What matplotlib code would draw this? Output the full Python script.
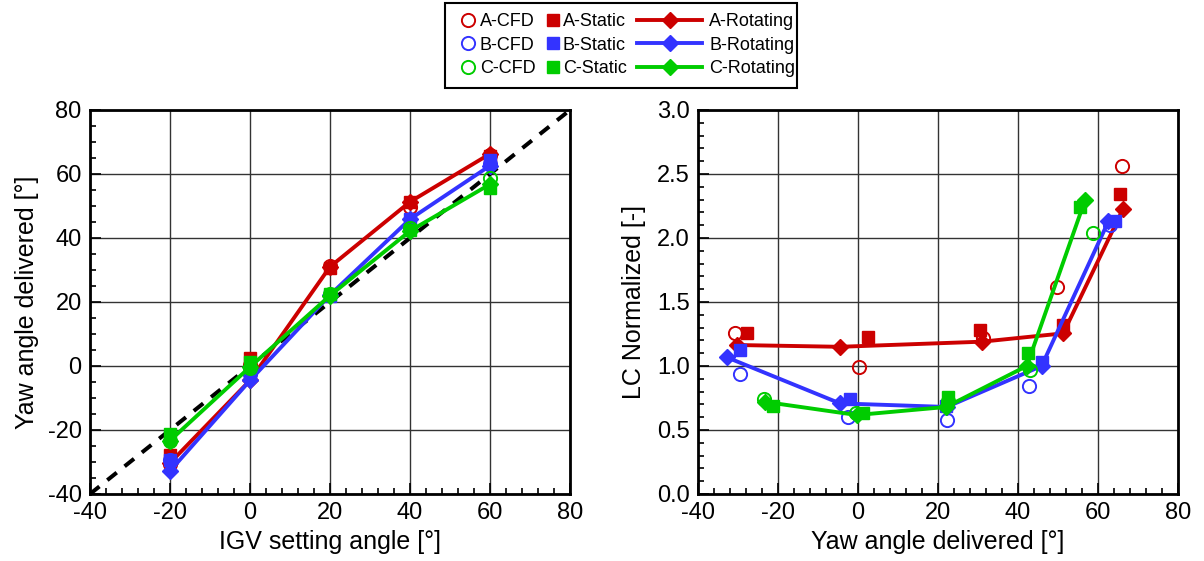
import matplotlib.pyplot as plt
from matplotlib.lines import Line2D
from matplotlib.patches import Rectangle
from matplotlib.ticker import MultipleLocator

plt.rcParams["font.family"] = ["Liberation Sans", "DejaVu Sans"]
plt.rcParams["axes.unicode_minus"] = False

# IGV setting angles (left plot x)
igv = [-20, 0, 20, 40, 60]

# Yaw angle delivered per case [deg]
yaw_a_cfd = [-30.7, 0.3, 31.2, 49.7, 65.9]
yaw_a_static = [-27.8, 2.4, 30.5, 51.3, 65.5]
yaw_a_rot = [-30.3, -4.5, 31.0, 51.3, 66.3]
yaw_b_cfd = [-29.5, -2.4, 22.2, 42.8, 63.0]
yaw_b_static = [-29.5, -2.0, 22.0, 45.9, 64.3]
yaw_b_rot = [-32.8, -4.5, 22.2, 45.9, 62.6]
yaw_c_cfd = [-23.5, -0.5, 22.5, 43.0, 58.8]
yaw_c_static = [-21.2, 1.3, 22.6, 42.6, 55.5]
yaw_c_rot = [-23.3, -0.3, 22.0, 42.2, 56.8]

# LC normalized per case [-]
lc_a_cfd = [1.255, 0.995, 1.22, 1.62, 2.565]
lc_a_static = [1.255, 1.23, 1.28, 1.32, 2.34]
lc_a_rot = [1.164, 1.15, 1.19, 1.255, 2.23]
lc_b_cfd = [0.94, 0.60, 0.58, 0.84, 2.10]
lc_b_static = [1.125, 0.74, 0.69, 1.03, 2.135]
lc_b_rot = [1.068, 0.708, 0.68, 1.00, 2.13]
lc_c_cfd = [0.742, 0.63, 0.73, 0.97, 2.04]
lc_c_static = [0.6875, 0.635, 0.76, 1.10, 2.245]
lc_c_rot = [0.72, 0.617, 0.68, 1.00, 2.30]

RED = "#CC0000"
BLUE = "#3333FF"
GREEN = "#00CC00"

cases = [
    ("A", RED, yaw_a_cfd, lc_a_cfd, yaw_a_static, lc_a_static, yaw_a_rot, lc_a_rot),
    ("B", BLUE, yaw_b_cfd, lc_b_cfd, yaw_b_static, lc_b_static, yaw_b_rot, lc_b_rot),
    ("C", GREEN, yaw_c_cfd, lc_c_cfd, yaw_c_static, lc_c_static, yaw_c_rot, lc_c_rot),
]

fig = plt.figure(figsize=(12.04, 5.61), dpi=100)
W, H = 1204, 561
ax1 = fig.add_axes([90 / W, 1 - 494 / H, 480 / W, 384 / H])
ax2 = fig.add_axes([698 / W, 1 - 494 / H, 480 / W, 384 / H])

cfd_kw = dict(linestyle="none", marker="o", markersize=9.5, markerfacecolor="none",
              markeredgewidth=1.4)
static_kw = dict(linestyle="none", marker="s", markersize=8.5)
rot_kw = dict(linewidth=2.8, marker="D", markersize=8.5)

# left: yaw delivered vs IGV setting
ax1.plot([-40, 80], [-40, 80], color="black", linestyle=(0, (3, 2.5)), linewidth=2.9,
         zorder=1)
for name, c, ycfd, _, ystat, _, yrot, _ in cases:
    ax1.plot(igv, ycfd, color=c, markeredgecolor=c, **cfd_kw)
    ax1.plot(igv, ystat, color=c, **static_kw)
    ax1.plot(igv, yrot, color=c, **rot_kw)

ax1.set_xlim(-40, 80)
ax1.set_ylim(-40, 80)
ax1.xaxis.set_major_locator(MultipleLocator(20))
ax1.xaxis.set_minor_locator(MultipleLocator(4))
ax1.yaxis.set_major_locator(MultipleLocator(20))
ax1.yaxis.set_minor_locator(MultipleLocator(5))
ax1.set_xlabel("IGV setting angle [°]", fontsize=18, labelpad=4)
ax1.set_ylabel("Yaw angle delivered [°]", fontsize=18, labelpad=6)

# right: LC normalized vs yaw delivered
for name, c, ycfd, lcfd, ystat, lstat, yrot, lrot in cases:
    ax2.plot(ycfd, lcfd, color=c, markeredgecolor=c, **cfd_kw)
    ax2.plot(ystat, lstat, color=c, **static_kw)
    ax2.plot(yrot, lrot, color=c, **rot_kw)

ax2.set_xlim(-40, 80)
ax2.set_ylim(0, 3)
ax2.xaxis.set_major_locator(MultipleLocator(20))
ax2.xaxis.set_minor_locator(MultipleLocator(4))
ax2.yaxis.set_major_locator(MultipleLocator(0.5))
ax2.yaxis.set_minor_locator(MultipleLocator(0.1))
ax2.yaxis.set_major_formatter(plt.FormatStrFormatter("%.1f"))
ax2.set_xlabel("Yaw angle delivered [°]", fontsize=18, labelpad=4)
ax2.set_ylabel("LC Normalized [-]", fontsize=18, labelpad=8)

for ax in (ax1, ax2):
    ax.grid(True, which="major", color="#333333", linewidth=1.0)
    ax.set_axisbelow(True)
    for s in ax.spines.values():
        s.set_linewidth(2.0)
    ax.tick_params(which="both", direction="in", top=False, right=False,
                   labelsize=17, width=1.2)
    ax.tick_params(which="major", length=8, pad=6)
    ax.tick_params(which="minor", length=4)

# legend: three columns inside one frame
col_handles = []
for kind in ("CFD", "Static", "Rotating"):
    hs = []
    for name, c, *_ in cases:
        if kind == "CFD":
            h = Line2D([], [], color=c, markeredgecolor=c, **cfd_kw)
        elif kind == "Static":
            h = Line2D([], [], color=c, **static_kw)
        else:
            h = Line2D([], [], color=c, **rot_kw)
        hs.append((h, f"{name}-{kind}"))
    col_handles.append(hs)

# (left px, top px, handlelength, handletextpad)
anchors = [(456, 8, 0.7, 0.32), (541, 8, 0.7, 0.2), (632, 8, 3.6, 0.39)]
for hs, (x0, y0, hl, tp) in zip(col_handles, anchors):
    fig.legend([h for h, _ in hs], [l for _, l in hs], loc="upper left",
               bbox_to_anchor=(x0 / W, 1 - y0 / H), frameon=False, fontsize=13,
               handlelength=hl, handletextpad=tp, labelspacing=0.35,
               borderpad=0.3, borderaxespad=0)

fig.patches.append(Rectangle((445 / W, 1 - 88 / H), 352 / W, 85 / H,
                             transform=fig.transFigure, fill=False,
                             edgecolor="black", linewidth=1.5))

fig.savefig("out.png", dpi=100)
